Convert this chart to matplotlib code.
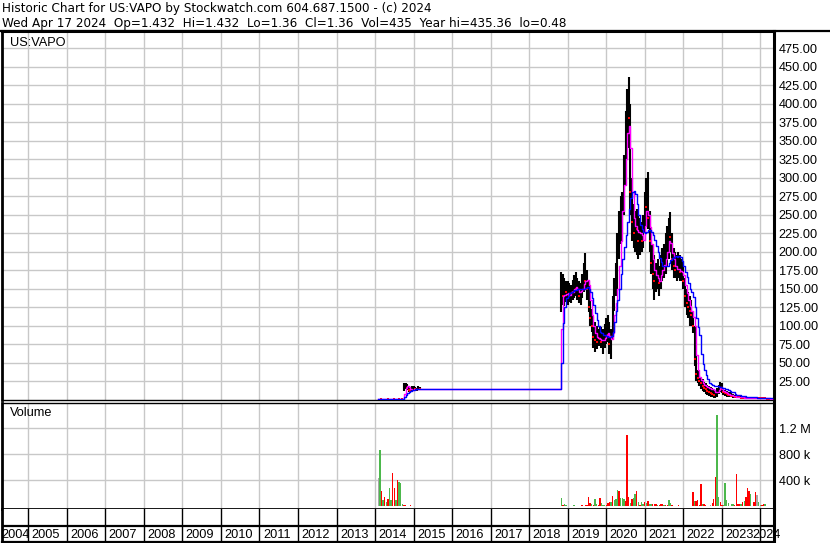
import numpy as np
import matplotlib
matplotlib.use('Agg')
import matplotlib.pyplot as plt
from matplotlib.lines import Line2D

plt.rcParams['font.family'] = ['Liberation Sans', 'DejaVu Sans']

# ---- data: 2014-2015 segment (semi-monthly from early 2014) ----
start14 = 2014.083
hi14 = [0.9, 1.1, 1.0, 0.9, 0.8, 0.9, 0.8, 0.8, 0.7, 0.8, 0.7, 0.7, 0.8, 0.7, 0.7, 0.6,
        22, 23, 21, 18, 16, 18, 19, 17, 16, 18, 17]
lo14 = [0.5, 0.6, 0.55, 0.5, 0.5, 0.5, 0.5, 0.48, 0.5, 0.5, 0.5, 0.5, 0.5, 0.5, 0.5, 0.5,
        12, 14, 13, 11, 10, 12, 13, 12, 12, 13, 13]
cl14 = [0.7, 0.8, 0.6, 0.6, 0.6, 0.7, 0.6, 0.6, 0.6, 0.6, 0.55, 0.6, 0.6, 0.55, 0.6, 0.55,
        18, 20, 16, 13, 12, 15, 17, 14, 14, 16, 15]
fast14 = [0.7, 0.75, 0.7, 0.65, 0.6, 0.65, 0.6, 0.6, 0.6, 0.6, 0.58, 0.6, 0.6, 0.57, 0.58, 0.56,
          8, 16, 19, 17, 14, 13, 14, 15, 15, 15, 15]
slow14 = [0.7, 0.7, 0.7, 0.7, 0.68, 0.66, 0.64, 0.62, 0.62, 0.6, 0.6, 0.6, 0.6, 0.6, 0.59, 0.58,
          3, 6, 9, 11, 12, 13, 13.5, 14, 14, 14, 14]
vol14 = [431, 866, 231, 100, 150, 70, 120, 280, 100, 507, 280, 97, 405, 369, 354, 40,
         20, 15, 12, 10, 15, 10, 8, 12, 10, 8, 10]
dir14 = 'ngrgrgrggrrgrggg' + 'rrgrrgrrgrr'

# ---- data: late 2018 - Apr 2024 (semi-monthly) ----
start18 = 2018.833
hi = [173, 170, 165, 160, 160, 158, 155, 162, 168, 172, 165, 160,
      158, 170, 185, 198, 175, 160, 135, 122, 112, 105, 100, 95,
      100, 98, 95, 102, 110, 115, 105, 95, 140, 165, 185, 225,
      255, 275, 280, 330, 390, 420, 436, 400, 300, 265, 255, 258,
      250, 245, 240, 250, 280, 300, 308, 255, 225, 210, 195, 185,
      190, 180, 195, 205, 210, 225, 235, 245, 254, 225, 205, 200,
      195, 200, 195, 190, 180, 165, 150, 145, 140, 135, 120, 100,
      60, 40, 33, 30, 28, 24, 22, 20, 18, 17, 16, 14,
      13, 16, 20, 24, 22, 16, 13, 12, 11, 10, 9, 8,
      7, 6.5, 6, 5.5, 5, 4.8, 4.5, 4.3, 4, 3.8, 3.6, 3.4,
      3.3, 3.2, 3.0, 2.9, 2.8, 2.7, 2.6, 2.5, 2.4, 2.3, 2.2, 1.6]
lo = [119, 128, 126, 132, 128, 132, 130, 135, 138, 140, 135, 130,
      128, 138, 145, 150, 135, 118, 100, 92, 70, 65, 68, 72,
      72, 70, 62, 70, 75, 78, 62, 55, 80, 120, 140, 150,
      190, 210, 225, 250, 290, 330, 340, 250, 215, 205, 200, 195,
      190, 195, 200, 205, 225, 235, 230, 200, 170, 150, 135, 145,
      150, 140, 150, 160, 165, 170, 180, 190, 200, 175, 165, 165,
      160, 165, 160, 160, 150, 125, 115, 110, 100, 100, 90, 45,
      25, 22, 18, 15, 12, 10, 8, 6, 5, 4, 3, 2,
      2, 4, 8, 10, 9, 6, 5, 4, 3.5, 3, 3, 2.5,
      2, 2, 1.8, 1.8, 1.6, 1.6, 1.5, 1.5, 1.5, 1.4, 1.4, 1.4,
      1.3, 1.3, 1.3, 1.2, 1.2, 1.2, 1.2, 1.1, 1.1, 1.1, 1.0, 1.36]
cl = [150, 140, 152, 145, 148, 142, 150, 145, 158, 150, 148, 140,
      150, 155, 165, 160, 150, 125, 110, 100, 85, 80, 78, 85,
      82, 78, 85, 90, 95, 88, 75, 80, 130, 150, 170, 200,
      230, 255, 265, 310, 370, 400, 380, 280, 240, 225, 240, 230,
      215, 230, 215, 230, 265, 260, 245, 215, 185, 170, 160, 165,
      170, 158, 175, 185, 190, 205, 215, 225, 220, 190, 180, 175,
      178, 180, 172, 175, 160, 140, 130, 125, 120, 115, 100, 55,
      35, 30, 25, 22, 18, 16, 14, 12, 10, 9, 8, 6,
      7, 10, 15, 18, 14, 10, 9, 8, 7, 6, 5, 4.5,
      4, 3.5, 3.2, 3, 2.8, 2.7, 2.6, 2.5, 2.4, 2.3, 2.2, 2.1,
      2.0, 1.95, 1.9, 1.85, 1.8, 1.75, 1.7, 1.65, 1.6, 1.5, 1.45, 1.36]
fast = [95, 140, 142, 143, 144, 142, 145, 146, 150, 152, 150, 146,
        147, 150, 156, 160, 162, 155, 135, 115, 100, 90, 85, 83,
        82, 80, 80, 84, 88, 90, 86, 82, 90, 115, 130, 150,
        180, 215, 255, 290, 325, 360, 370, 340, 280, 245, 235, 229,
        227, 225, 222, 216, 235, 255, 250, 234, 210, 190, 175, 168,
        165, 160, 168, 175, 182, 190, 200, 215, 212, 198, 190, 180,
        177, 176, 174, 172, 168, 155, 144, 135, 126, 120, 112, 100,
        60, 40, 31, 26, 22, 20, 18, 17, 16, 15, 14, 13,
        11, 11, 13, 17, 15, 12, 10, 9, 8, 7, 6, 5,
        4.5, 4, 3.5, 3.3, 3.1, 3, 2.9, 2.8, 2.7, 2.6, 2.5, 2.4,
        2.3, 2.2, 2.1, 2.05, 2, 1.95, 1.9, 1.85, 1.8, 1.7, 1.6, 1.5]
slow = [50, 103, 125, 138, 140, 144, 146, 147, 148, 148, 149, 149,
        149, 150, 150, 151, 152, 150, 146, 138, 128, 117, 108, 99,
        92, 90, 88, 87, 86, 85, 85, 86, 92, 105, 120, 135,
        150, 170, 190, 207, 222, 240, 258, 272, 280, 282, 278, 265,
        250, 236, 230, 226, 225, 227, 229, 229, 226, 222, 216, 208,
        200, 192, 186, 181, 180, 180, 181, 185, 189, 191, 193, 194,
        193, 194, 193, 188, 180, 172, 166, 158, 150, 145, 139, 125,
        110, 98, 87, 62, 48, 40, 33, 28, 23, 21, 20, 19,
        18, 18, 17, 17, 16, 16, 15, 14, 13, 12, 11, 10,
        8, 7, 6.5, 6, 5.5, 5, 4.5, 4.2, 4, 3.8, 3.6, 3.4,
        3.2, 3, 2.9, 2.8, 2.6, 2.5, 2.4, 2.3, 2.2, 2.1, 2.0, 1.9]
vol = [123, 15, 31, 20, 10, 8, 12, 10, 15, 12, 8, 10,
       10, 15, 12, 18, 20, 144, 46, 30, 20, 113, 30, 20,
       123, 46, 15, 15, 20, 46, 72, 67, 159, 97, 118, 255,
       240, 128, 128, 110, 80, 1097, 150, 46, 108, 123, 190, 236,
       62, 20, 62, 40, 67, 56, 82, 30, 30, 30, 36, 36,
       20, 20, 36, 36, 20, 20, 20, 97, 46, 20, 10, 10,
       10, 15, 10, 5, 5, 10, 10, 10, 10, 10, 220, 82,
       77, 97, 20, 344, 30, 36, 15, 10, 5, 15, 46, 113,
       446, 1405, 144, 72, 20, 15, 359, 97, 46, 10, 30, 30,
       20, 497, 30, 30, 36, 72, 82, 138, 282, 241, 190, 5,
       72, 220, 180, 72, 20, 20, 30, 36, 5, 10, 10, 5]
vol_dir = ('grgggrrggrgr' 'grgrrrrgrggr' 'rgggrrrgrggg' 'rgggrrrgrggr'
           'grggrgrggrrr' 'grrrgrrggrrr' 'grgrrgggrgrg' 'rrrrgrrggnrr'
           'rggrrggggrgg' 'rrrrgrgrrrgr' 'rrnggrrggrgr')

header1 = 'Historic Chart for US:VAPO by Stockwatch.com 604.687.1500 - (c) 2024'
header2 = 'Wed Apr 17 2024  Op=1.432  Hi=1.432  Lo=1.36  Cl=1.36  Vol=435  Year hi=435.36  lo=0.48'
years = list(range(2004, 2025))

# ---- assemble ----
t = np.concatenate([start14 + np.arange(len(cl14)) / 24, start18 + np.arange(len(cl)) / 24])
H_ = np.array(hi14 + hi, float)
L_ = np.array(lo14 + lo, float)
C_ = np.array(cl14 + cl, float)
F_ = np.array(fast14 + fast, float)
S_ = np.array(slow14 + slow, float)
V_ = np.array(vol14 + vol, float) * 1000
D_ = dir14 + vol_dir
vcol = {'g': '#4cb84c', 'r': '#ff0000', 'n': '#a8a8a8'}

W, Hh = 830, 543
fig = plt.figure(figsize=(W / 100, Hh / 100), dpi=100)


def box(left, top, right, bottom):
    return [left / W, 1 - bottom / Hh, (right - left) / W, (bottom - top) / Hh]


def px2yr(px):
    return 2005 + (px - 28.3) / 38.53


X0, X1 = 1.5, 774
xlim = (px2yr(X0), px2yr(X1))
grid_c = '#c8c8c8'
fs = 9.2

ax = fig.add_axes(box(X0, 31, X1, 400))
axv = fig.add_axes(box(X0, 402.5, X1, 509.3))
axs = fig.add_axes(box(X0, 509.3, X1, 541.7))

for a in (ax, axv):
    a.set_xlim(*xlim)
    a.set_xticks(years[1:])
    a.grid(True, color=grid_c, lw=1)
    a.set_axisbelow(True)
    a.tick_params(axis='x', length=0, labelbottom=False)
    a.yaxis.tick_right()
    a.tick_params(axis='y', length=0, pad=3.3, labelsize=fs)

# price panel
ax.set_ylim(-0.4, 498.2)
pt = np.arange(25, 500, 25)
ax.set_yticks(pt)
ax.set_yticklabels([f'{v:.2f}' for v in pt])
ax.vlines(t, L_, H_, color='black', lw=1.5, zorder=3)
down = np.r_[False, C_[1:] < C_[:-1]]
ax.plot(t[down], C_[down], 's', color='red', ms=1.8, mew=0, zorder=4)
ax.plot(t, F_, color='#ff00ff', lw=1, drawstyle='steps-post', zorder=5)
ax.plot(t, S_, color='#0000ff', lw=1, drawstyle='steps-post', zorder=6)
ax.text(8 / (X1 - X0), 0.985, 'US:VAPO', transform=ax.transAxes, fontsize=fs,
        va='top', ha='left')

# volume panel
axv.set_ylim(-46000, 1.597e6)
vt = [400e3, 800e3, 1.2e6]
axv.set_yticks(vt)
axv.set_yticklabels(['400 k', '800 k', '1.2 M'])
axv.bar(t, V_, width=0.036, color=[vcol[c] for c in D_], zorder=3)
axv.text(8 / (X1 - X0), 0.96, 'Volume', transform=axv.transAxes, fontsize=fs,
         va='top', ha='left')

# year strip
axs.set_xlim(*xlim)
axs.set_ylim(0, 1)
axs.set_xticks([])
axs.set_yticks([])
for yr in years[1:]:
    axs.axvline(yr, color='black', lw=1)
axs.axhline(0.47, color='black', lw=1.6)
for yr in years:
    if yr == 2004:
        xx, ha = xlim[0], 'left'
    elif yr == 2024:
        xx, ha = px2yr(781), 'right'
    else:
        xx, ha = yr + 3.4 / 38.53, 'left'
    axs.text(xx, 0.21, str(yr), fontsize=fs, ha=ha, va='center', clip_on=False)

# spines
for a in (ax, axv, axs):
    for s in a.spines.values():
        s.set_color('black')
    a.spines['left'].set_linewidth(2)
    a.spines['right'].set_linewidth(2.2)
ax.spines['top'].set_linewidth(2.2)
ax.spines['bottom'].set_linewidth(1)
axv.spines['top'].set_linewidth(1)
axv.spines['bottom'].set_linewidth(2)
axs.spines['top'].set_visible(False)
axs.spines['bottom'].set_linewidth(1.6)

# header: wider face than the axis labels, sized to span ~432 px like the original
h1 = fig.text(1.7 / W, 1 - 12 / Hh, header1, fontsize=fs, va='baseline', ha='left',
              family=['DejaVu Sans'])
fig.canvas.draw()
wpx = h1.get_window_extent().width
hfs = fs * (431 - 1.7) / wpx
h1.set_fontsize(hfs)
fig.text(1.7 / W, 1 - 27.5 / Hh, header2, fontsize=hfs, va='baseline', ha='left',
         family=['DejaVu Sans'])
fig.add_artist(Line2D([0, 1], [1 - 30.5 / Hh] * 2, color='black', lw=1.6,
                      transform=fig.transFigure))

fig.savefig('out.png', dpi=100)
